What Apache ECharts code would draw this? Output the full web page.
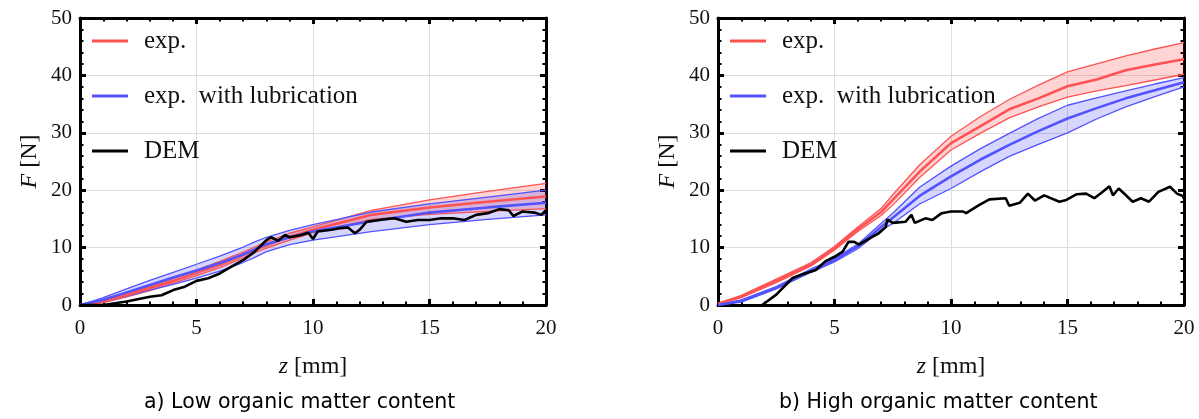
<!DOCTYPE html>
<html><head><meta charset="utf-8">
<script src="https://cdn.jsdelivr.net/npm/echarts@6/dist/echarts.min.js"></script>
<style>html,body{margin:0;padding:0;background:#fff}#c{width:1199px;height:419px}</style>
</head><body><div id="c"></div>
<script>
// ---------- data: a) low organic matter content ----------
const lowZ        = [0, 1, 2, 3, 4, 5, 6, 7, 7.5, 8, 9, 10, 12.5, 15, 17.5, 20];
const lowRedMean  = [0, 0.6, 1.7, 2.9, 4.2, 5.6, 7.0, 8.7, 9.6, 10.4, 11.9, 13.1, 15.7, 17.0, 18.0, 18.9];
const lowRedUp    = [0, 0.8, 2.0, 3.2, 4.6, 6.1, 7.6, 9.2, 10.1, 11.0, 12.5, 13.6, 16.5, 18.3, 19.8, 21.2];
const lowRedLo    = [0, 0.4, 1.4, 2.5, 3.8, 5.1, 6.5, 8.2, 9.1, 9.9, 11.3, 12.6, 14.9, 15.8, 16.3, 16.8];
const lowBlueMean = [0, 0.9, 2.2, 3.5, 4.8, 6.0, 7.3, 8.8, 9.7, 10.6, 11.8, 12.8, 14.6, 16.1, 17.0, 17.8];
const lowBlueUp   = [0, 1.3, 2.8, 4.3, 5.7, 7.1, 8.5, 10.1, 11.0, 11.8, 13.0, 14.0, 16.2, 17.6, 18.8, 20.0];
const lowBlueLo   = [0, 0.5, 1.5, 2.6, 3.6, 4.7, 5.9, 7.4, 8.3, 9.3, 10.5, 11.3, 12.8, 14.0, 14.9, 15.7];
const lowDemZ = [0, 1, 2, 3, 3.5, 4, 4.5, 5, 5.5, 6, 6.5, 7, 7.5, 8, 8.2, 8.5, 8.8, 9, 9.5, 9.8, 10, 10.2, 10.8, 11.2, 11.5, 11.8, 12, 12.3, 13, 13.5, 14, 14.5, 15, 15.5, 16, 16.5, 17, 17.5, 18, 18.4, 18.6, 19, 19.5, 19.8, 20];
const lowDemF = [0, 0, 0.6, 1.45, 1.7, 2.6, 3.2, 4.2, 4.65, 5.5, 6.7, 7.8, 9.3, 11.3, 11.8, 11.2, 12.2, 11.8, 12.2, 12.6, 11.5, 12.8, 13.1, 13.4, 13.5, 12.5, 13.1, 14.5, 14.9, 15.1, 14.5, 14.8, 14.8, 15.1, 15.1, 14.8, 15.7, 16.0, 16.7, 16.5, 15.5, 16.3, 16.1, 15.7, 16.5];

// ---------- data: b) high organic matter content ----------
const highZ        = [0, 1, 2.5, 4, 5, 6, 7, 7.5, 8.65, 10, 11.25, 12.5, 13.75, 15, 16.25, 17.5, 18.75, 20];
const highRedMean  = [0.2, 1.5, 4.2, 7.1, 9.9, 13.2, 16.2, 18.3, 23.2, 28.2, 31.1, 34.1, 36.0, 38.1, 39.3, 40.9, 41.9, 42.8];
const highRedUp    = [0.3, 1.7, 4.5, 7.4, 10.2, 13.6, 16.8, 19.2, 24.4, 29.4, 32.8, 35.8, 38.3, 40.6, 42.0, 43.4, 44.6, 45.7];
const highRedLo    = [0.1, 1.3, 3.9, 6.8, 9.6, 12.8, 15.6, 17.4, 22.2, 27.0, 29.9, 32.6, 34.5, 36.2, 37.3, 38.2, 39.2, 40.2];
const highBlueMean = [0, 0.7, 3.0, 6.0, 7.8, 10.2, 13.6, 15.2, 19.0, 22.4, 25.3, 27.9, 30.3, 32.5, 34.3, 36.0, 37.4, 38.8];
const highBlueUp   = [0, 0.9, 3.2, 6.3, 8.1, 10.6, 14.2, 16.0, 20.5, 24.2, 27.2, 29.9, 32.5, 34.8, 36.1, 37.3, 38.5, 39.6];
const highBlueLo   = [0, 0.5, 2.8, 5.7, 7.5, 9.8, 13.0, 14.2, 17.6, 20.3, 23.2, 25.9, 28.0, 30.0, 32.4, 34.5, 36.3, 38.0];
const highDemZ = [1.9, 2.5, 3.2, 3.6, 4.2, 4.6, 5.0, 5.35, 5.6, 5.85, 6.05, 6.5, 6.9, 7.2, 7.27, 7.5, 8.05, 8.3, 8.45, 8.9, 9.2, 9.6, 10.0, 10.5, 10.65, 11.2, 11.65, 12.35, 12.5, 12.95, 13.3, 13.6, 14.0, 14.65, 14.95, 15.4, 15.8, 16.15, 16.5, 16.8, 16.95, 17.2, 17.8, 18.15, 18.5, 18.9, 19.4, 19.7, 19.95, 20];
const highDemF = [0, 1.8, 4.7, 5.3, 6.1, 7.6, 8.4, 9.3, 11.0, 11.0, 10.5, 11.6, 12.5, 13.6, 14.9, 14.3, 14.5, 15.7, 14.3, 15.1, 14.8, 16.0, 16.3, 16.3, 16.0, 17.4, 18.4, 18.6, 17.3, 17.8, 19.4, 18.2, 19.1, 18.0, 18.3, 19.3, 19.4, 18.6, 19.7, 20.7, 19.1, 20.3, 18.0, 18.6, 18.0, 19.7, 20.6, 19.4, 19.0, 18.5];

const legendNames = ['exp.', 'exp. with lubrication', 'DEM'];
const captions = ['a) Low organic matter content', 'b) High organic matter content'];
const xTitle = '{i|z} [mm]';
const yTitle = '{i|F} [N]';

// ---------- styling ----------
const SERIF = '"Liberation Serif", "DejaVu Serif", serif';
const RED = '#ff5252', BLUE = '#5252ff';
const RED_FILL = 'rgba(255,0,0,0.17)', BLUE_FILL = 'rgba(0,0,255,0.16)';
const GRIDS = [{left: 80, top: 18, width: 466, height: 287}, {left: 718, top: 18, width: 466, height: 287}];

function pairs(xs, ys) { return xs.map((x, i) => [x, ys[i]]); }

const rich = {i: {fontStyle: 'italic', fontFamily: SERIF, fontSize: 24, color: '#111'}};

function xAxis(g, pos, main) {
  return {
    type: 'value', gridIndex: g, position: pos, min: 0, max: 20, interval: 5,
    axisLine: {show: true, onZero: false, lineStyle: {color: '#000', width: 3}},
    axisTick: {show: true, inside: true, length: 6, lineStyle: {color: '#000', width: 3}},
    minorTick: {show: true, splitNumber: 5, length: 3.5, lineStyle: {color: '#000', width: 2}},
    splitLine: {show: main, lineStyle: {color: '#dedede', width: 1}},
    axisLabel: {show: main, fontFamily: SERIF, fontSize: 21, color: '#111', margin: 13},
    name: main ? xTitle : '', nameLocation: 'middle', nameGap: 50,
    nameTextStyle: {fontFamily: SERIF, fontSize: 24, color: '#111', rich: rich}
  };
}
function yAxis(g, pos, main) {
  return {
    type: 'value', gridIndex: g, position: pos, min: 0, max: 50, interval: 10,
    axisLine: {show: true, onZero: false, lineStyle: {color: '#000', width: 3}},
    axisTick: {show: true, inside: true, length: 6, lineStyle: {color: '#000', width: 3}},
    minorTick: {show: true, splitNumber: 5, length: 3.5, lineStyle: {color: '#000', width: 2}},
    splitLine: {show: main, lineStyle: {color: '#dedede', width: 1}},
    axisLabel: {show: main, fontFamily: SERIF, fontSize: 21, color: '#111', margin: 8},
    name: main ? yTitle : '', nameLocation: 'middle', nameGap: 38, nameRotate: 90,
    nameTextStyle: {fontFamily: SERIF, fontSize: 24, color: '#111', rich: rich}
  };
}

// band fill: polygon between lower and upper curve, drawn through the axis scales
function bandFill(g, z, lo, up, fill) {
  return {
    type: 'custom', xAxisIndex: 2 * g, yAxisIndex: 2 * g, silent: true,
    data: z.map((v, i) => [v, lo[i], up[i]]),
    clip: true,
    renderItem: function (params, api) {
      if (params.dataIndex !== 0) return null;
      const pts = [];
      for (let i = 0; i < z.length; i++) pts.push(api.coord([z[i], up[i]]));
      for (let i = z.length - 1; i >= 0; i--) pts.push(api.coord([z[i], lo[i]]));
      return {type: 'polygon', shape: {points: pts}, style: {fill: fill, stroke: null}};
    }
  };
}
function line(g, name, z, v, color, w) {
  return {type: 'line', name: name, xAxisIndex: 2 * g, yAxisIndex: 2 * g,
    data: pairs(z, v), symbol: 'none', silent: true,
    lineStyle: {color: color, width: w}, itemStyle: {color: color}};
}

const sets = [
  {z: lowZ, rm: lowRedMean, ru: lowRedUp, rl: lowRedLo, bm: lowBlueMean, bu: lowBlueUp, bl: lowBlueLo, dz: lowDemZ, df: lowDemF},
  {z: highZ, rm: highRedMean, ru: highRedUp, rl: highRedLo, bm: highBlueMean, bu: highBlueUp, bl: highBlueLo, dz: highDemZ, df: highDemF}
];

const series = [];
sets.forEach((s, g) => {
  series.push(bandFill(g, s.z, s.rl, s.ru, RED_FILL));
  series.push(line(g, 'exp. lower', s.z, s.rl, RED, 1.3));
  series.push(line(g, 'exp. upper', s.z, s.ru, RED, 1.3));
  series.push(bandFill(g, s.z, s.bl, s.bu, BLUE_FILL));
  series.push(line(g, 'lub. lower', s.z, s.bl, BLUE, 1.3));
  series.push(line(g, 'lub. upper', s.z, s.bu, BLUE, 1.3));
  series.push(line(g, legendNames[0], s.z, s.rm, RED, 2.6));
  series.push(line(g, legendNames[1], s.z, s.bm, BLUE, 2.6));
  series.push(line(g, legendNames[2], s.dz, s.df, '#000', 2.6));
});

const option = {
  animation: false,
  backgroundColor: '#fff',
  grid: GRIDS.map(r => Object.assign({containLabel: false}, r)),
  xAxis: [xAxis(0, 'bottom', true), xAxis(0, 'top', false), xAxis(1, 'bottom', true), xAxis(1, 'top', false)],
  yAxis: [yAxis(0, 'left', true), yAxis(0, 'right', false), yAxis(1, 'left', true), yAxis(1, 'right', false)],
  legend: GRIDS.map(r => ({
    left: r.left + 12, top: 26, orient: 'vertical', padding: 0,
    itemWidth: 36, itemHeight: 3, itemGap: 25, icon: 'rect', selectedMode: false,
    data: legendNames,
    formatter: n => n.replace('exp. with', 'exp.\u2002with'),
    textStyle: {fontFamily: SERIF, fontSize: 25, color: '#111', lineHeight: 30, padding: [0, 0, 0, 11]}
  })),
  title: [
    {text: captions[0], left: 144, top: 392, padding: 0,
     textStyle: {fontFamily: '"DejaVu Sans", sans-serif', fontSize: 20.5, fontWeight: 'normal', color: '#000'}},
    {text: captions[1], left: 779, top: 392, padding: 0,
     textStyle: {fontFamily: '"DejaVu Sans", sans-serif', fontSize: 20.5, fontWeight: 'normal', color: '#000'}}
  ],
  series: series
};

const chart = echarts.init(document.getElementById('c'), null, {renderer: 'canvas'});
chart.setOption(option);
</script>
</body></html>
